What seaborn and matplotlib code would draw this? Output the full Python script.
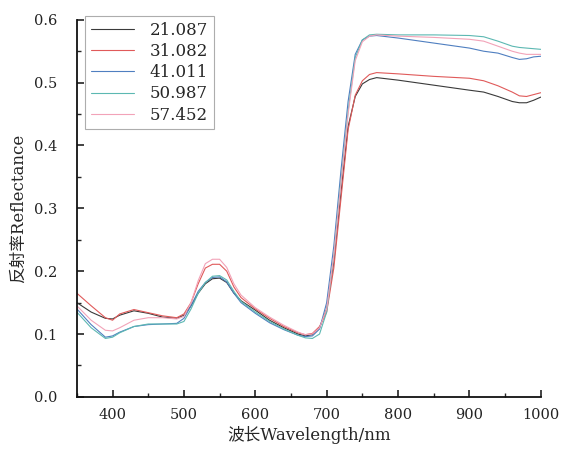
import numpy as np
import pandas as pd
import matplotlib
matplotlib.use("Agg")
import matplotlib.pyplot as plt
from matplotlib.ticker import MultipleLocator
import seaborn as sns

wavelength = [350, 370, 390, 400, 410, 430, 450, 470, 490, 500, 510, 520, 530, 540, 550, 560, 570, 580,
              600, 620, 640, 660, 670, 680, 690, 700, 710, 720, 730, 740, 750, 760, 770, 800, 850, 900,
              920, 940, 960, 970, 980, 990, 1000]

s21087 = [0.150, 0.135, 0.125, 0.124, 0.130, 0.137, 0.133, 0.127, 0.125, 0.130, 0.145, 0.165, 0.180, 0.188,
          0.189, 0.182, 0.165, 0.153, 0.138, 0.122, 0.110, 0.100, 0.097, 0.099, 0.110, 0.140, 0.215, 0.325,
          0.430, 0.478, 0.498, 0.505, 0.508, 0.504, 0.496, 0.488, 0.485, 0.478, 0.470, 0.468, 0.468, 0.472, 0.477]
s31082 = [0.165, 0.145, 0.126, 0.122, 0.132, 0.139, 0.134, 0.129, 0.126, 0.132, 0.150, 0.180, 0.205, 0.211,
          0.211, 0.200, 0.175, 0.158, 0.140, 0.125, 0.112, 0.102, 0.099, 0.101, 0.112, 0.135, 0.205, 0.315,
          0.425, 0.480, 0.503, 0.513, 0.516, 0.514, 0.510, 0.507, 0.503, 0.495, 0.485, 0.479, 0.478, 0.481, 0.484]
s41011 = [0.140, 0.115, 0.095, 0.097, 0.103, 0.112, 0.115, 0.116, 0.117, 0.125, 0.145, 0.168, 0.182, 0.190,
          0.191, 0.183, 0.165, 0.150, 0.133, 0.118, 0.107, 0.098, 0.096, 0.097, 0.108, 0.150, 0.240, 0.360,
          0.470, 0.545, 0.568, 0.574, 0.575, 0.571, 0.563, 0.555, 0.550, 0.547, 0.540, 0.537, 0.538, 0.541, 0.542]
s50987 = [0.135, 0.110, 0.093, 0.095, 0.102, 0.112, 0.116, 0.116, 0.116, 0.120, 0.140, 0.165, 0.182, 0.192,
          0.193, 0.186, 0.168, 0.152, 0.135, 0.120, 0.108, 0.098, 0.094, 0.093, 0.100, 0.135, 0.225, 0.345,
          0.455, 0.540, 0.568, 0.576, 0.577, 0.576, 0.576, 0.575, 0.573, 0.566, 0.558, 0.556, 0.555, 0.554, 0.553]
s57452 = [0.145, 0.122, 0.106, 0.105, 0.110, 0.122, 0.126, 0.126, 0.124, 0.128, 0.150, 0.185, 0.212, 0.219,
          0.219, 0.206, 0.180, 0.162, 0.142, 0.127, 0.114, 0.103, 0.099, 0.100, 0.110, 0.140, 0.225, 0.340,
          0.450, 0.535, 0.565, 0.574, 0.576, 0.574, 0.572, 0.569, 0.566, 0.558, 0.550, 0.547, 0.545, 0.545, 0.545]

labels = ["21.087", "31.082", "41.011", "50.987", "57.452"]
series = [s21087, s31082, s41011, s50987, s57452]
colors = ["#3a3a3a", "#e05a5a", "#4f7fc0", "#5cb8b2", "#f2a3b8"]

rows = []
for lab, vals in zip(labels, series):
    for w, v in zip(wavelength, vals):
        rows.append({"wl": w, "refl": v, "sample": lab})
df = pd.DataFrame(rows)

sns.set_style("ticks")
plt.rcParams["font.family"] = ["DejaVu Serif", "Noto Sans CJK SC"]

fig = plt.figure(figsize=(5.61, 4.50), dpi=100)
ax = fig.add_axes([0.137, 0.118, 0.827, 0.838])
sns.lineplot(data=df, x="wl", y="refl", hue="sample", hue_order=labels,
             palette=colors, linewidth=0.8, ax=ax, estimator=None, sort=True)

ax.set_xlim(350, 1000)
ax.set_ylim(0, 0.6)
ax.xaxis.set_major_locator(MultipleLocator(100))
ax.xaxis.set_minor_locator(MultipleLocator(50))
ax.yaxis.set_major_locator(MultipleLocator(0.1))
ax.yaxis.set_minor_locator(MultipleLocator(0.05))
ax.yaxis.set_major_formatter(matplotlib.ticker.FormatStrFormatter("%.1f"))
ax.tick_params(which="major", direction="in", length=5, width=1.2, labelsize=10.5, colors="#222222")
ax.tick_params(axis="y", which="major", pad=14)
ax.tick_params(axis="x", which="major", pad=8)
ax.tick_params(which="minor", direction="in", length=3, width=1.0)
for sp in ["top", "right"]:
    ax.spines[sp].set_visible(False)
for sp in ["left", "bottom"]:
    ax.spines[sp].set_linewidth(1.3)
    ax.spines[sp].set_color("#111111")

ax.set_xlabel("波长Wavelength/nm", fontsize=12, labelpad=3)
ax.set_ylabel("反射率Reflectance", fontsize=12, labelpad=5)

leg = ax.legend(loc="upper left", bbox_to_anchor=(0.018, 1.01), frameon=True, fancybox=False,
                fontsize=12, handlelength=2.6, labelspacing=0.25, borderpad=0.35, handletextpad=0.9,
                borderaxespad=0.0)
leg.get_frame().set_edgecolor("#999999")
leg.get_frame().set_linewidth(0.8)
leg.set_title(None)

fig.savefig("out.png", dpi=100)
